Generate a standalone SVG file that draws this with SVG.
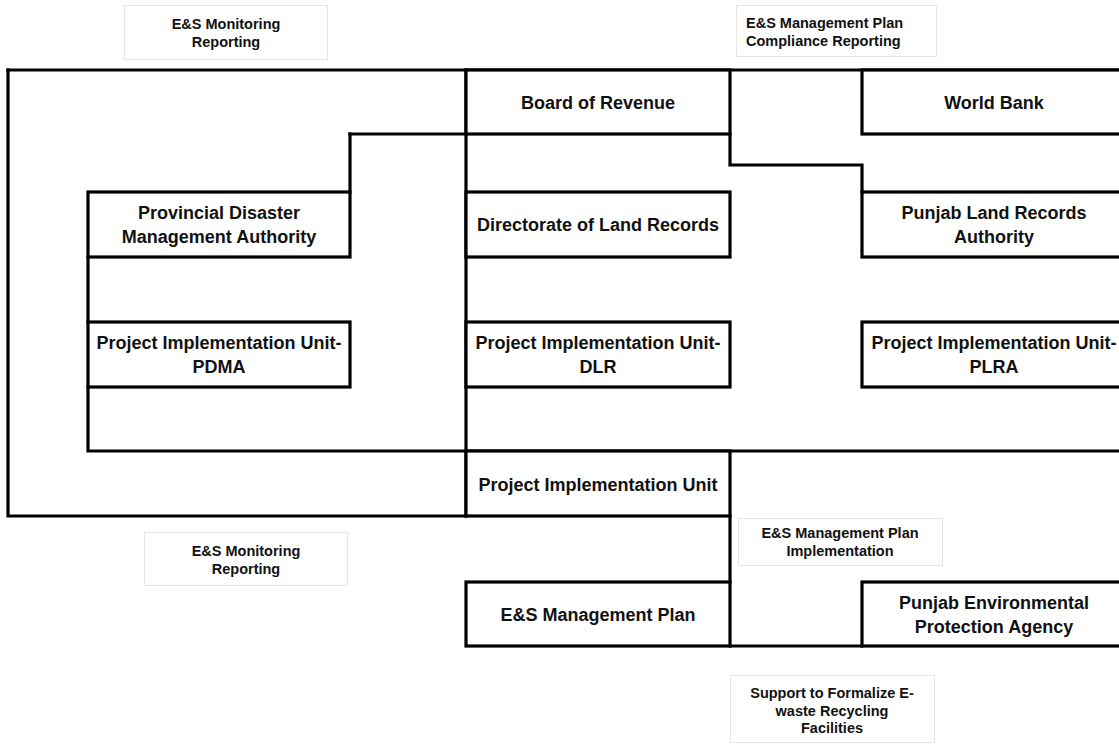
<svg xmlns="http://www.w3.org/2000/svg" width="1119" height="744" viewBox="0 0 1119 744">
<style>
.box{fill:#fff;stroke:#000;stroke-width:3.2}
.ln{fill:none;stroke:#000;stroke-width:3.2;stroke-linecap:square}
.lbl{fill:#fff;stroke:#e6e6e6;stroke-width:1}
.t{font-family:"Liberation Sans",Arial,sans-serif;font-weight:bold;font-size:18px;fill:#111;text-anchor:middle}
.s{font-family:"Liberation Sans",Arial,sans-serif;font-weight:bold;font-size:14.5px;fill:#111;text-anchor:middle}
</style>
<rect width="1119" height="744" fill="#fff"/>
<g id="connectors">
<path class="ln" d="M8,70 H1125"/>
<path class="ln" d="M8,70 V516 H466"/>
<path class="ln" d="M466,70 V516"/>
<path class="ln" d="M350,134 H466"/>
<path class="ln" d="M350,134 V192"/>
<path class="ln" d="M88,257 V322"/>
<path class="ln" d="M88,387 V451 H1125"/>
<path class="ln" d="M730,134 V165 H862 V192"/>
<path class="ln" d="M730,516 V582"/>
<path class="ln" d="M730,646 H862"/>
</g>
<g id="board-of-revenue"><rect class="box" x="466" y="70" width="264" height="64"/><text class="t" x="598" y="109">Board of Revenue</text></g>
<g id="world-bank"><rect class="box" x="862" y="70" width="262" height="64"/><text class="t" x="994" y="109">World Bank</text></g>
<g id="pdma"><rect class="box" x="88" y="192" width="262" height="65"/><text class="t" x="219" y="219">Provincial Disaster</text><text class="t" x="219" y="243">Management Authority</text></g>
<g id="dlr"><rect class="box" x="466" y="192" width="264" height="65"/><text class="t" x="598" y="231">Directorate of Land Records</text></g>
<g id="plra"><rect class="box" x="862" y="192" width="262" height="65"/><text class="t" x="994" y="219">Punjab Land Records</text><text class="t" x="994" y="243">Authority</text></g>
<g id="piu-pdma"><rect class="box" x="88" y="322" width="262" height="65"/><text class="t" x="219" y="349">Project Implementation Unit-</text><text class="t" x="219" y="373">PDMA</text></g>
<g id="piu-dlr"><rect class="box" x="466" y="322" width="264" height="65"/><text class="t" x="598" y="349">Project Implementation Unit-</text><text class="t" x="598" y="373">DLR</text></g>
<g id="piu-plra"><rect class="box" x="862" y="322" width="262" height="65"/><text class="t" x="994" y="349">Project Implementation Unit-</text><text class="t" x="994" y="373">PLRA</text></g>
<g id="piu"><rect class="box" x="466" y="451" width="264" height="65"/><text class="t" x="598" y="491">Project Implementation Unit</text></g>
<g id="esmp"><rect class="box" x="466" y="582" width="264" height="64"/><text class="t" x="598" y="621">E&amp;S Management Plan</text></g>
<g id="pepa"><rect class="box" x="862" y="582" width="262" height="64"/><text class="t" x="994" y="609">Punjab Environmental</text><text class="t" x="994" y="633">Protection Agency</text></g>
<g id="lbl-monitoring-top"><rect class="lbl" x="124.5" y="5.5" width="203" height="54"/><text class="s" x="226" y="29">E&amp;S Monitoring</text><text class="s" x="226" y="47">Reporting</text></g>
<g id="lbl-compliance"><rect class="lbl" x="736.5" y="5.5" width="200" height="51"/><text class="s" x="746" y="28" style="text-anchor:start">E&amp;S Management Plan</text><text class="s" x="746" y="46" style="text-anchor:start">Compliance Reporting</text></g>
<g id="lbl-monitoring-bottom"><rect class="lbl" x="144.5" y="532.5" width="203" height="53"/><text class="s" x="246" y="556">E&amp;S Monitoring</text><text class="s" x="246" y="574">Reporting</text></g>
<g id="lbl-implementation"><rect class="lbl" x="738.5" y="518.5" width="204" height="47"/><text class="s" x="840" y="538">E&amp;S Management Plan</text><text class="s" x="840" y="556">Implementation</text></g>
<g id="lbl-ewaste"><rect class="lbl" x="730.5" y="675.5" width="204" height="67"/><text class="s" x="832" y="698">Support to Formalize E-</text><text class="s" x="832" y="716">waste Recycling</text><text class="s" x="832" y="733">Facilities</text></g>
</svg>
